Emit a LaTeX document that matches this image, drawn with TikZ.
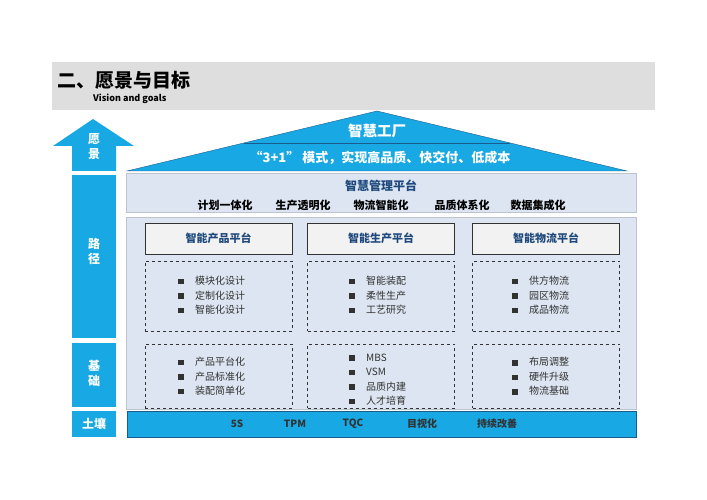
\documentclass[tikz,border=0pt]{standalone}
\usepackage{fontspec}
\setmainfont{Noto Sans CJK SC}
\definecolor{sky}{RGB}{24,168,228}
\definecolor{roofline}{RGB}{28,92,140}
\definecolor{pale}{RGB}{220,229,241}
\definecolor{edge}{RGB}{190,196,206}
\definecolor{navy}{RGB}{31,73,125}
\definecolor{band}{RGB}{222,222,222}
\definecolor{ink}{RGB}{50,50,50}
\newcommand{\itm}[1]{\rule[0.3pt]{5.5pt}{5.5pt}\hspace{11.5pt}#1}
\begin{document}
\begin{tikzpicture}[x=1pt,y=-1pt]
\useasboundingbox (0,0) rectangle (707,500);
\tikzset{every node/.style={inner sep=0pt},
  col/.style={fill=sky,draw=none},
  side/.style={text=white,font=\fontsize{12}{15}\selectfont\bfseries,align=center},
  plat/.style={draw=ink,fill=white!95!black,minimum width=147pt,minimum height=31pt,
    text=navy,font=\fontsize{11}{13}\selectfont\bfseries},
  dbox/.style={draw=ink,dashed,minimum width=147pt},
  list/.style={anchor=west,align=left,text=ink,font=\fontsize{10}{14.5}\selectfont},
  way/.style={font=\fontsize{11}{13}\selectfont\bfseries},
  soil/.style={text=ink,font=\fontsize{10}{12}\selectfont\bfseries}}

\fill[band] (52,62) rectangle (655,110);
\node[anchor=west,font=\fontsize{19}{22}\selectfont\bfseries] (title) at (57,80) {二、愿景与目标};
\node[anchor=west,font=\fontsize{9}{11}\selectfont\bfseries] (sub) at (93,98.5) {Vision and goals};

\fill[col] (93,119) -- (134,146) -- (116,146) -- (116,171) -- (72,171) -- (72,146) -- (53,146) -- cycle;
\node[side] (s1) at (94,147) {愿\\景};
\fill[col] (72,175) rectangle (116,338);
\node[side] (s2) at (94,251) {路\\径};
\fill[col] (72,343) rectangle (116,407);
\node[side] (s3) at (94,373) {基\\础};
\fill[col] (72,411) rectangle (116,437);
\node[side] (s4) at (94,424) {土壤};

\coordinate (rl) at (127,171);
\coordinate (rt) at (377,111);
\coordinate (rr) at (627,171);
\path (rl) -- (rt) coordinate[pos=0.4667] (sl);
\path (rr) -- (rt) coordinate[pos=0.4667] (sr);
\filldraw[fill=sky,draw=roofline] (rl) -- (rt) -- (rr) -- cycle;
\draw[roofline] (sl) -- (sr);
\node[text=white,font=\fontsize{14.5}{16}\selectfont\bfseries] (top) at (377,131) {智慧工厂};
\node[text=white,font=\fontsize{13}{15}\selectfont\bfseries] (goal) at (380,158) {“3+1”\ 模式，实现高品质、快交付、低成本};

\filldraw[fill=pale,draw=edge] (126,173) rectangle (636,212);
\node[text=navy,font=\fontsize{12}{14}\selectfont\bfseries] (mgmt) at (381,186) {智慧管理平台};
\node[way] (w1) at (225,205) {计划一体化};
\node[way] (w2) at (303,205) {生产透明化};
\node[way] (w3) at (381,205) {物流智能化};
\node[way] (w4) at (462,205) {品质体系化};
\node[way] (w5) at (538,205) {数据集成化};

\filldraw[fill=pale,draw=edge] (126,217) rectangle (636,409);
\node[plat] (p1) at (218.5,238.5) {智能产品平台};
\node[plat] (p2) at (381,238.5) {智能生产平台};
\node[plat] (p3) at (546,238.5) {智能物流平台};
\node[dbox,minimum height=70pt] (a1) at (218.5,296) {};
\node[dbox,minimum height=70pt] (a2) at (381,296) {};
\node[dbox,minimum height=70pt] (a3) at (546,296) {};
\node[dbox,minimum height=64pt] (b1) at (218.5,376) {};
\node[dbox,minimum height=64pt] (b2) at (381,376) {};
\node[dbox,minimum height=64pt] (b3) at (546,376) {};

\node[list] (l1) at (178,295.5) {\itm{模块化设计}\\\itm{定制化设计}\\\itm{智能化设计}};
\node[list] (l2) at (349,295.5) {\itm{智能装配}\\\itm{柔性生产}\\\itm{工艺研究}};
\node[list] (l3) at (512,295.5) {\itm{供方物流}\\\itm{园区物流}\\\itm{成品物流}};
\node[list] (l4) at (178,376.5) {\itm{产品平台化}\\\itm{产品标准化}\\\itm{装配简单化}};
\node[list] (l5) at (349,379.5) {\itm{MBS}\\\itm{VSM}\\\itm{品质内建}\\\itm{人才培育}};
\node[list] (l6) at (512,376.5) {\itm{布局调整}\\\itm{硬件升级}\\\itm{物流基础}};

\filldraw[fill=sky,draw=roofline] (127,411) rectangle (636,437);
\node[soil] (t1) at (237,424) {5S};
\node[soil] (t2) at (295,424) {TPM};
\node[soil] (t3) at (353,424) {TQC};
\node[soil] (t4) at (422,424) {目视化};
\node[soil] (t5) at (497,424) {持续改善};
\end{tikzpicture}
\end{document}
